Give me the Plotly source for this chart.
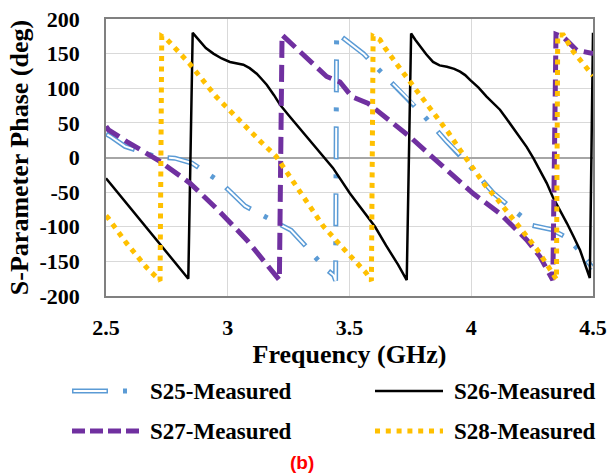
import plotly.graph_objects as go

# Measured S-parameter phase (deg) versus frequency (GHz)
s25_freq = [2.50, 2.516, 2.578, 2.708, 2.783, 2.852, 2.968, 3.023, 3.071, 3.194, 3.26, 3.31,
            3.40, 3.435, 3.443, 3.447, 3.502, 3.557, 3.609, 3.705, 3.76, 3.806, 3.899, 3.95,
            3.995, 4.09, 4.146, 4.203, 4.25, 4.33, 4.389, 4.44, 4.50]
s25_phase = [34, 31, 16, 1, -1, -8, -35, -53, -70, -93, -105, -124,
             -160, -170, -178, 180, 165, 150, 131, 97, 78, 60, 23, 5,
             -13, -51, -67, -85, -98, -104, -115, -133, -160]

s26_freq = [2.50, 2.60, 2.70, 2.80, 2.838, 2.856, 2.87, 2.886, 2.91, 2.941, 2.975, 3.009,
            3.04, 3.064, 3.09, 3.119, 3.14, 3.16, 3.19, 3.215, 3.25, 3.283, 3.351, 3.432,
            3.502, 3.56, 3.605, 3.65, 3.70, 3.735, 3.753, 3.77, 3.79, 3.815, 3.843, 3.87,
            3.90, 3.93, 3.954, 3.975, 3.995, 4.03, 4.063, 4.09, 4.118, 4.145, 4.173, 4.20,
            4.228, 4.255, 4.282, 4.31, 4.335, 4.365, 4.393, 4.42, 4.447, 4.487, 4.497, 4.50]
s26_phase = [-30, -73, -116, -159, -175, 180, 174, 167, 158, 150, 143, 138,
             136, 134, 129, 121, 113, 105, 90, 76, 61, 47, 18, -15,
             -52, -80, -100, -127, -155, -177, 179, 170, 160, 149, 138, 133,
             131, 128, 124, 119, 112, 101, 88, 79, 69, 56, 42, 29,
             15, -1, -18, -37, -57, -76, -95, -114, -134, -174, 180, 180]

s27_freq = [2.50, 2.51, 2.585, 2.715, 2.845, 2.961, 3.078, 3.212, 3.223, 3.269, 3.297, 3.406,
            3.461, 3.509, 3.577, 3.666, 3.748, 3.817, 3.885, 4.008, 4.118, 4.228, 4.282,
            4.335, 4.348, 4.378, 4.433, 4.50]
s27_phase = [45, 40, 23, -4, -37, -76, -119, -177, 177, 162, 152, 117,
             109, 88, 78, 54, 30, 8, -13, -52, -81, -119, -143,
             -177, 178, 174, 155, 150]

s28_freq = [2.50, 2.51, 2.585, 2.667, 2.722, 2.729, 2.749, 2.815, 2.842, 2.952, 3.071, 3.132,
            3.198, 3.30, 3.392, 3.479, 3.567, 3.590, 3.597, 3.625, 3.646, 3.696, 3.748, 3.80,
            3.851, 3.906, 3.954, 4.004, 4.057, 4.111, 4.166, 4.217, 4.271, 4.317, 4.340, 4.350,
            4.355, 4.378, 4.419, 4.474, 4.50]
s28_phase = [-84, -88, -124, -159, -178, 175, 171, 147, 136, 88, 44, 24,
             2, -50, -99, -133, -166, -178, 175, 170, 158, 134, 110, 85,
             60, 36, 11, -14, -40, -62, -86, -107, -133, -158, -173, -176,
             177, 177, 153, 129, 118]

x_ticks = [2.5, 3, 3.5, 4, 4.5]
y_ticks = [-200, -150, -100, -50, 0, 50, 100, 150, 200]

series_names = ["S25-Measured", "S26-Measured", "S27-Measured", "S28-Measured"]

BLUE = "#5B9BD5"
BLACK = "#000000"
PURPLE = "#7030A0"
GOLD = "#FFC000"
SERIF = "Liberation Serif, Times New Roman, serif"

# dash patterns (px) for the data lines
S25_OUTER = "33px,15px,4px,15px"
S25_INNER = "0px,1.5px,30px,35.5px"
S27_DASH = "17px,7px"
S28_DOT = "5px,5.5px"

fig = go.Figure()

# S25: compound (hollow) long-dash-dot line = wide blue stroke + thin white core
fig.add_trace(go.Scatter(x=s25_freq, y=s25_phase, mode="lines", name=series_names[0],
                         line=dict(color=BLUE, width=5, dash=S25_OUTER), showlegend=False))
fig.add_trace(go.Scatter(x=s25_freq, y=s25_phase, mode="lines", hoverinfo="skip",
                         line=dict(color="white", width=2, dash=S25_INNER), showlegend=False))
fig.add_trace(go.Scatter(x=s26_freq, y=s26_phase, mode="lines", name=series_names[1],
                         line=dict(color=BLACK, width=2.5), showlegend=False))
fig.add_trace(go.Scatter(x=s27_freq, y=s27_phase, mode="lines", name=series_names[2],
                         line=dict(color=PURPLE, width=5, dash=S27_DASH), showlegend=False))
fig.add_trace(go.Scatter(x=s28_freq, y=s28_phase, mode="lines", name=series_names[3],
                         line=dict(color=GOLD, width=5, dash=S28_DOT), showlegend=False))

# plot-area geometry in pixels, used to place the two-column legend below the axes
W, H = 609, 474
L, R, T, B = 106, 16, 19, 178
pw, ph = W - L - R, H - T - B


def px_x(p):
    return (p - L) / pw


def px_y(p):
    return (H - B - p) / ph


row_y = [391, 431]
sym_x = [(72, 140), (375, 443)]
text_x = [148, 452]

legend_items = [
    (0, 0, [dict(color=BLUE, width=5, dash="36px,15px,4px,100px", end=127),
            dict(color="white", width=2, dash="0px,1.5px,33px,100px", end=127)]),
    (1, 0, [dict(color=BLACK, width=2.5, dash="solid", end=None)]),
    (0, 1, [dict(color=PURPLE, width=5, dash="13px,5px", end=None)]),
    (1, 1, [dict(color=GOLD, width=5, dash="5px,5.8px", end=None)]),
]

shapes = []
annotations = []
for idx, (col, row, strokes) in enumerate(legend_items):
    x0, x1 = sym_x[col]
    yv = px_y(row_y[row])
    for s in strokes:
        shapes.append(dict(type="line", xref="paper", yref="paper",
                           x0=px_x(x0), x1=px_x(s["end"] if s["end"] else x1), y0=yv, y1=yv,
                           line=dict(color=s["color"], width=s["width"], dash=s["dash"])))
    annotations.append(dict(text=series_names[idx], xref="paper", yref="paper",
                            x=px_x(text_x[col]), y=yv, xanchor="left", yanchor="middle",
                            showarrow=False,
                            font=dict(family=SERIF, size=23, color="black", weight="bold")))

annotations.append(dict(text="(b)", xref="paper", yref="paper",
                        x=px_x(302), y=px_y(462), xanchor="center", yanchor="middle",
                        showarrow=False,
                        font=dict(family="Liberation Sans, Arial, sans-serif", size=19,
                                  color="#FF0000", weight="bold")))

fig.update_layout(
    width=W, height=H,
    margin=dict(l=L, r=R, t=T, b=B, autoexpand=False),
    paper_bgcolor="white", plot_bgcolor="white",
    font=dict(family=SERIF, color="black"),
    shapes=shapes, annotations=annotations,
    showlegend=False,
)

fig.update_xaxes(
    range=[2.5, 4.5], tickvals=x_ticks, ticktext=[f"{v:g}" for v in x_ticks],
    tickfont=dict(family=SERIF, size=22, weight="bold"),
    ticks="", ticklabelstandoff=11,
    showgrid=True, gridcolor="#d9d9d9", gridwidth=1.3,
    showline=True, mirror=True, linecolor="#808080", linewidth=1.5,
    zeroline=False,
    title=dict(text="Frequency (GHz)", font=dict(family=SERIF, size=26, weight="bold"),
               standoff=5),
)
fig.update_yaxes(
    range=[-200, 200], tickvals=y_ticks, ticktext=[str(v) for v in y_ticks],
    tickfont=dict(family=SERIF, size=22, weight="bold"),
    ticks="", ticklabelstandoff=20,
    showgrid=True, gridcolor="#d9d9d9", gridwidth=1.3,
    showline=True, mirror=True, linecolor="#808080", linewidth=1.5,
    zeroline=True, zerolinecolor="#a6a6a6", zerolinewidth=1.5,
    title=dict(text="S-Parameter Phase (deg)", font=dict(family=SERIF, size=26, weight="bold"),
               standoff=3),
)

fig.write_html("out.html")
